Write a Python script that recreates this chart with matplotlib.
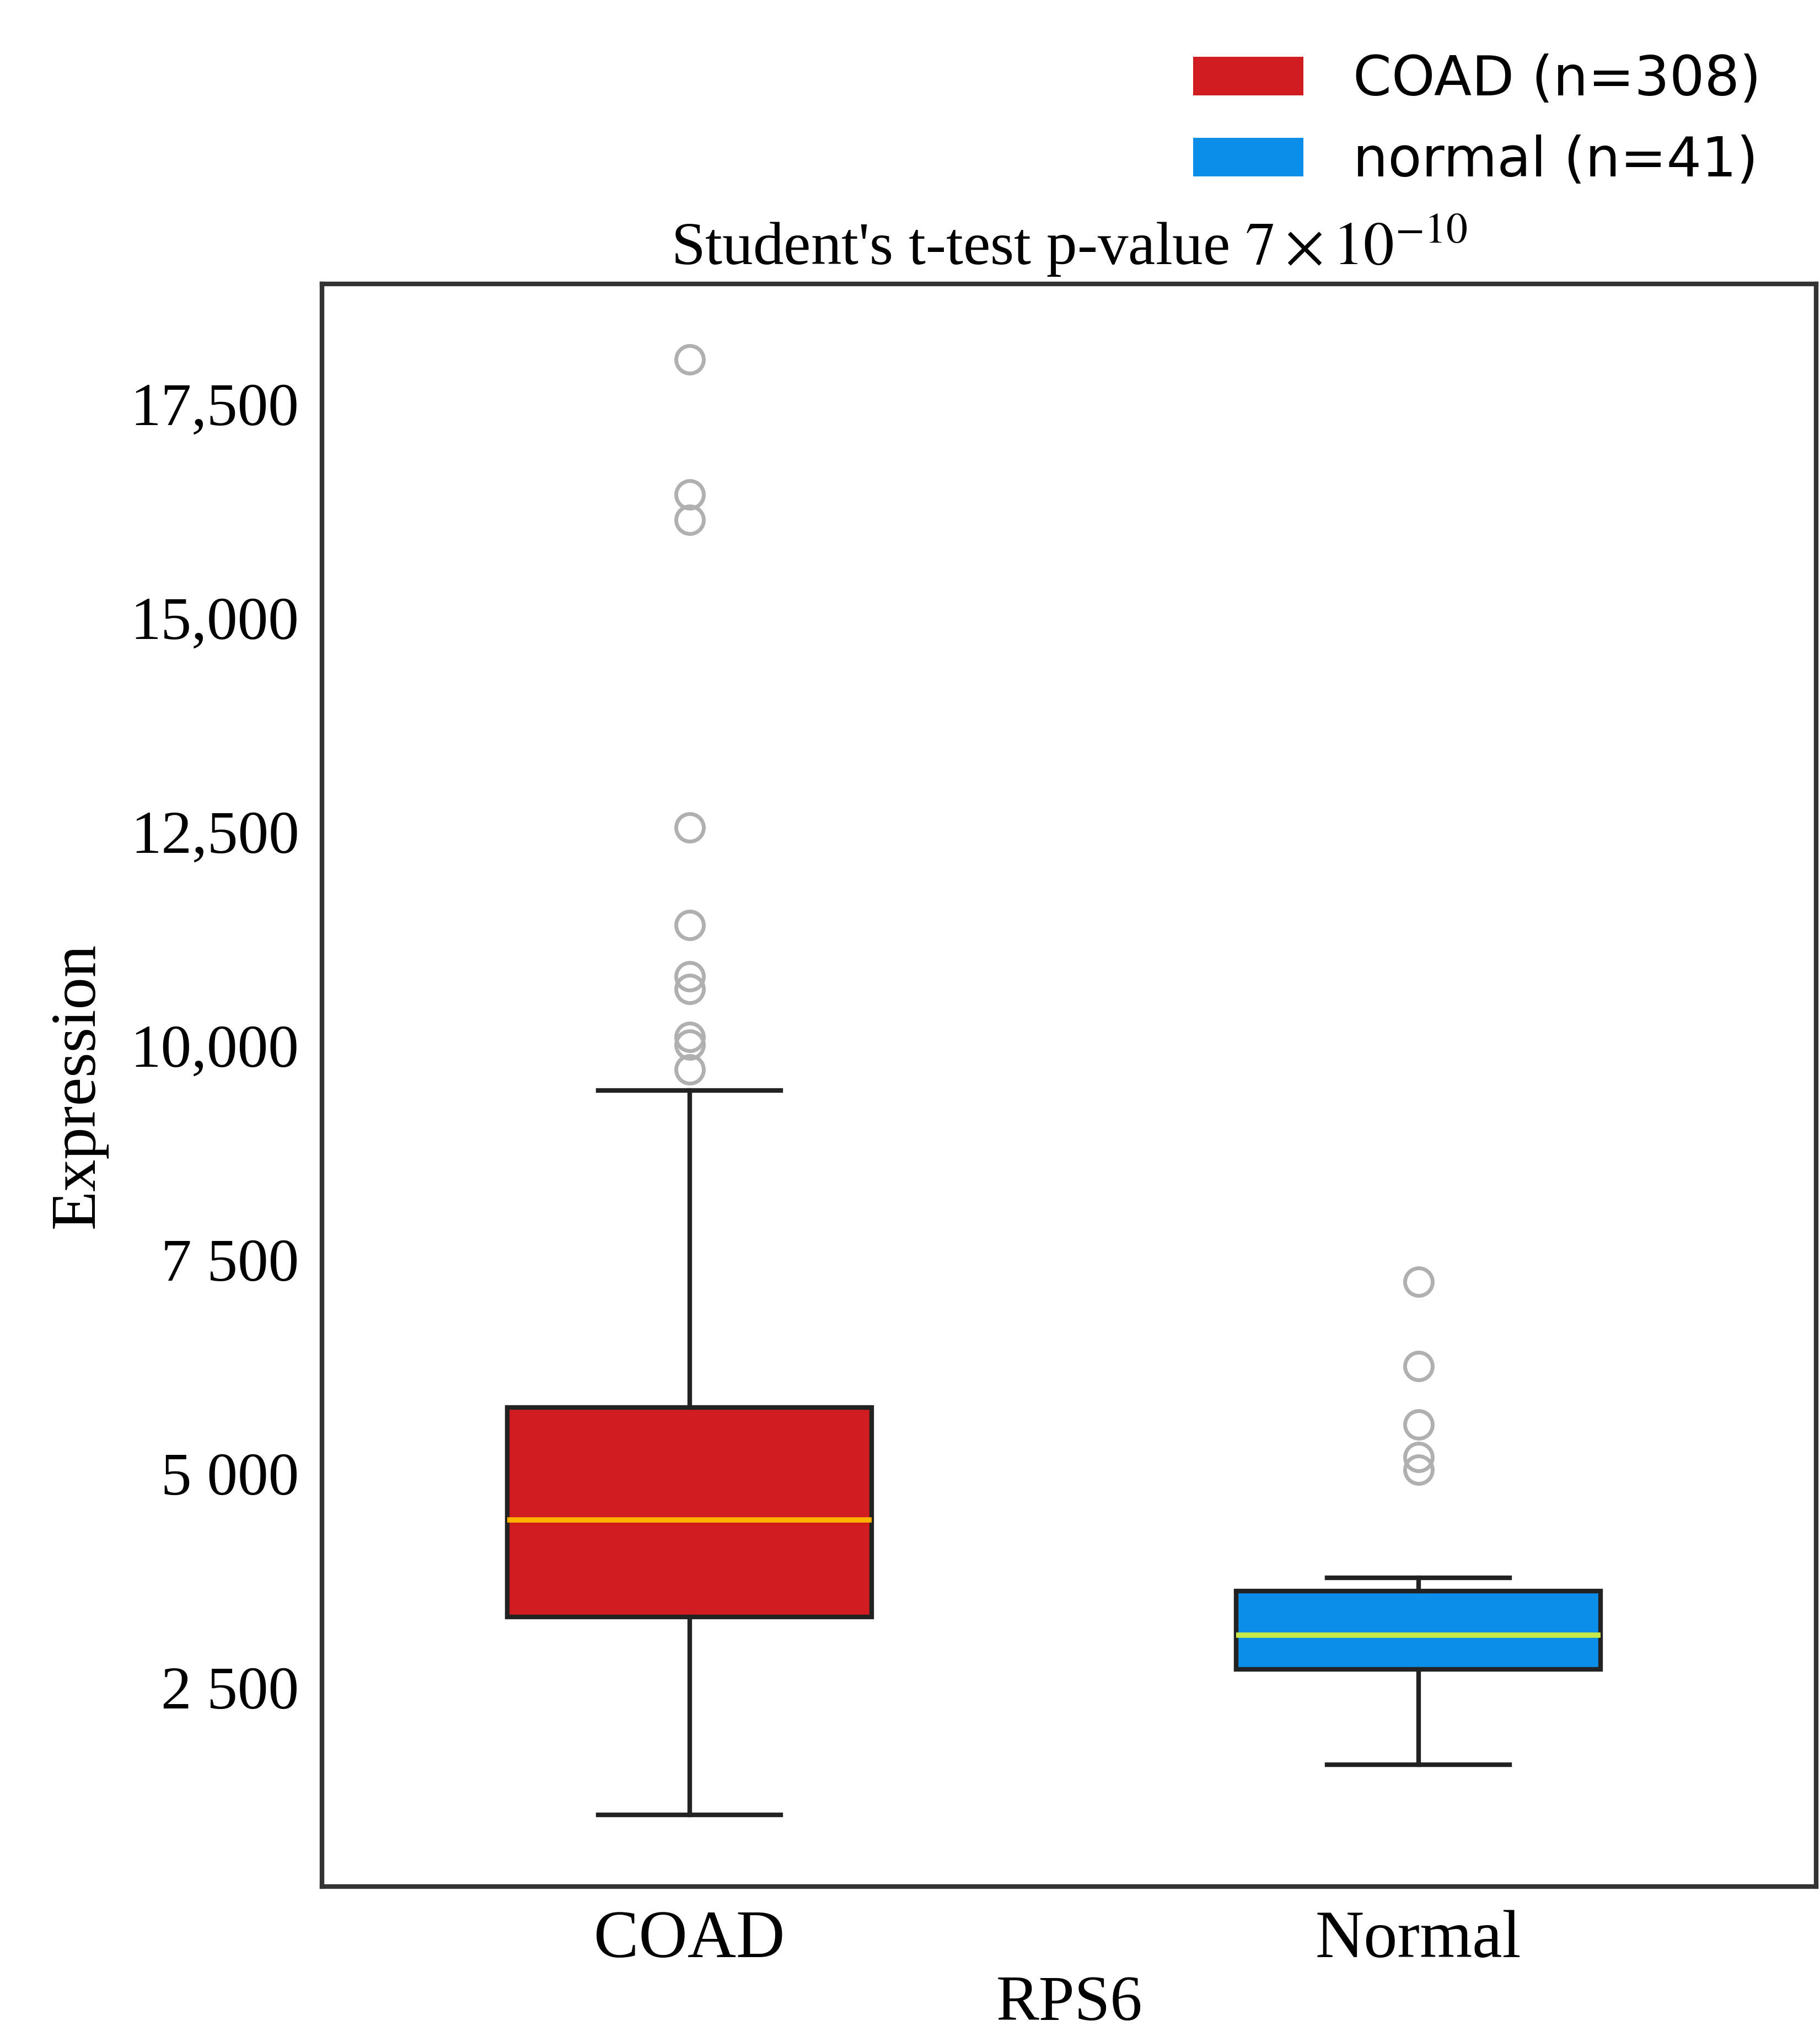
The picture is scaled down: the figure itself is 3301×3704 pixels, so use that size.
import matplotlib
import matplotlib.pyplot as plt
from matplotlib.patches import Patch

matplotlib.use("Agg")
plt.rcParams["mathtext.fontset"] = "stix"

groups = ["COAD", "Normal"]
legend_labels = ["COAD (n=308)", "normal (n=41)"]
colors = ["#d01c1f", "#0a8ee8"]
median_colors = ["#ffb300", "#c8e84a"]

q1 = [3320, 2710]
med = [4460, 3110]
q3 = [5770, 3625]
whislo = [1010, 1600]
whishi = [9475, 3780]
fliers = [
    [18016, 16436, 16140, 12545, 11405, 10810, 10660, 10100, 10010, 9720],
    [7240, 6255, 5570, 5190, 5040],
]

yticks = [2500, 5000, 7500, 10000, 12500, 15000, 17500]
ytick_labels = ["2 500", "5 000", "7 500", "10,000", "12,500", "15,000", "17,500"]

fig = plt.figure(figsize=(33.01, 37.04), dpi=100)
ax = fig.add_axes([0.177, 0.076, 0.821, 0.785])

stats = []
for i, g in enumerate(groups):
    stats.append(dict(label=g, q1=q1[i], med=med[i], q3=q3[i],
                      whislo=whislo[i], whishi=whishi[i], fliers=fliers[i]))

bp = ax.bxp(stats, positions=[1, 2], widths=0.5, patch_artist=True,
            boxprops=dict(linewidth=6, edgecolor="#222222"),
            whiskerprops=dict(linewidth=6, color="#222222"),
            capprops=dict(linewidth=6, color="#222222"),
            flierprops=dict(marker="o", markersize=36, markerfacecolor="none",
                            markeredgecolor="#b0b0b0", markeredgewidth=5))
for i, box in enumerate(bp["boxes"]):
    box.set_facecolor(colors[i])
for i, m in enumerate(bp["medians"]):
    m.set_color(median_colors[i])
    m.set_linewidth(7)
for cap in bp["caps"]:
    x = cap.get_xdata()
    c = (x[0] + x[1]) / 2
    cap.set_xdata([c - 0.125, c + 0.125])

ax.set_xlim(0.496, 2.546)
ax.set_ylim(170, 18900)
ax.set_yticks(yticks)
ax.set_yticklabels(ytick_labels, family="Liberation Serif", fontsize=80)
ax.set_xticks([1, 2])
ax.set_xticklabels(groups, family="Liberation Serif", fontsize=88)
ax.tick_params(length=0, pad=30)
for s in ax.spines.values():
    s.set_linewidth(6)
    s.set_color("#333333")

ax.set_ylabel("Expression", family="Liberation Serif", fontsize=84, labelpad=30)
ax.set_xlabel("RPS6", family="Liberation Serif", fontsize=84, labelpad=5)
ax.set_title(r"Student's t-test p-value $7\times10^{-10}$", family="Liberation Serif",
             fontsize=80, pad=25)

handles = [Patch(facecolor=c) for c in colors]
fig.legend(handles, legend_labels, loc="upper right", bbox_to_anchor=(0.995, 0.998),
           frameon=False, prop=dict(family="DejaVu Sans", size=72),
           handlelength=2.0, handleheight=0.7, handletextpad=0.9, labelspacing=0.5)

fig.savefig("out.png", dpi=100)
